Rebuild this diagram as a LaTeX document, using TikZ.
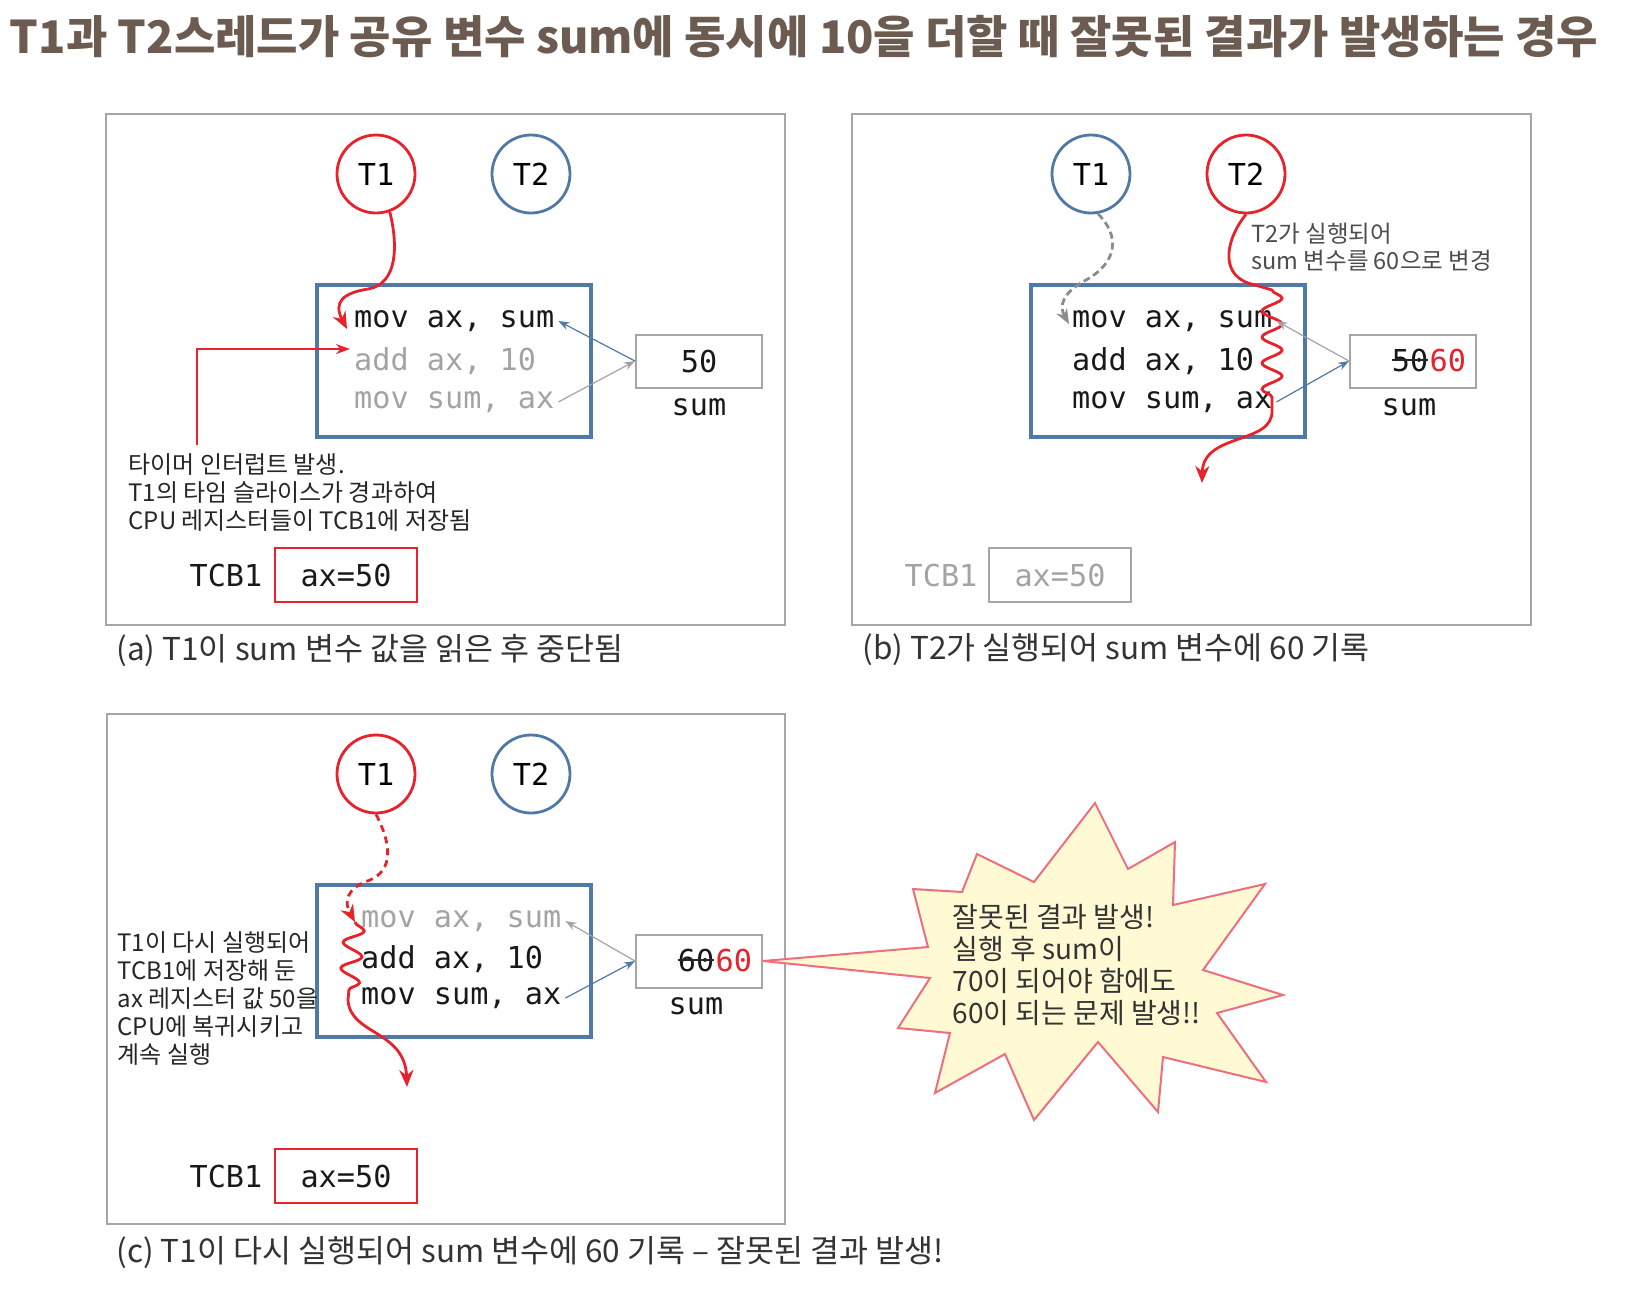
\documentclass[tikz,border=0pt]{standalone}
\usepackage{fontspec}
\setmainfont{Noto Sans CJK KR}
\newfontfamily\codefont{DejaVu Sans Mono}
\usepackage{tikz}
\usetikzlibrary{arrows.meta, positioning, decorations.pathmorphing}

\definecolor{thred}{HTML}{E8212B}
\definecolor{thblue}{HTML}{5079A8}
\definecolor{framegray}{HTML}{A6A6A6}
\definecolor{idlegray}{HTML}{A3A3A3}
\definecolor{titlebrown}{HTML}{6B5B50}
\definecolor{burstfill}{HTML}{FFFAD4}
\definecolor{burstline}{HTML}{EE6E7E}

\newcommand{\codesize}{\fontsize{30.2}{34}\selectfont}

\begin{document}
\begin{tikzpicture}[
    x=1pt, y=-1pt,
    panel/.style={draw=framegray, line width=2pt},
    thread/.style={circle, line width=2.8pt, minimum size=78pt, inner sep=0pt, font=\codefont\codesize},
    running/.style={thread, draw=thred},
    waiting/.style={thread, draw=thblue},
    codebox/.style={draw=thblue, line width=3.5pt, minimum width=274pt, minimum height=152pt},
    codeline/.style={anchor=west, inner sep=4pt, font=\codefont\codesize, text=black!90},
    idle/.style={text=idlegray},
    mono/.style={font=\codefont\codesize, text=black!90},
    digits/.style={mono, inner sep=0pt},
    memcell/.style={draw=framegray, line width=2pt, minimum width=126pt, minimum height=53pt},
    tcbcell/.style={draw=thred, line width=2pt, minimum width=142pt, minimum height=54pt, font=\codefont\codesize, text=black!90},
    note/.style={anchor=west, align=left, font=\fontsize{24}{28}\selectfont, text=black!85},
    caption/.style={anchor=west, font=\fontsize{31.5}{36}\selectfont, text=black!80},
    flow/.style={thred, line width=2.8pt, -{Stealth[length=17pt,width=14pt]}},
    waitflow/.style={draw=black!45, line width=2.8pt, dash pattern=on 7pt off 4pt, -{Stealth[length=15pt,width=12pt]}},
    irq/.style={thred, line width=1.6pt, -{Stealth[length=14pt,width=10pt]}},
    readarr/.style={line width=1.2pt, -{Stealth[length=11pt,width=8pt]}},
    strike/.style={line width=2pt, black!85},
    wave/.style={decoration={snake, segment length=26pt, amplitude=10pt}}
]
\useasboundingbox (0,0) rectangle (1626,1310);

% Title
\node[font=\bfseries\fontsize{45}{50}\selectfont, text=titlebrown] (title) at (804,37) {T1과 T2스레드가 공유 변수 sum에 동시에 10을 더할 때 잘못된 결과가 발생하는 경우};

% (a) T1 reads sum, then the timer interrupt stops it
\draw[panel] (106,114) rectangle (785,625);
\node[running] (aT1) at (376,174) {T1};
\node[waiting] (aT2) at (531,174) {T2};
\node[codebox] (aCode) at (454,361) {};
\node[codeline] (aL1) at (350,321) {mov ax, sum};
\node[codeline, idle] (aL2) at (350,361) {add ax, 10};
\node[codeline, idle] (aL3) at (350,402) {mov sum, ax};
\node[memcell] (aSum) at (699,361) {};
\node[mono] (aVal) at (aSum.center) {50};
\node[mono] (aSumName) at (699,407) {sum};
\node[tcbcell] (aTCB) at (346,575) {ax=50};
\node[mono] (aTCBName) at (226,575) {TCB1};
\node[note] (aNote) at (125,493) {타이머 인터럽트 발생.\\T1의 타임 슬라이스가 경과하여\\CPU 레지스터들이 TCB1에 저장됨};
\node[caption] (aCap) at (113,650) {(a) T1이 sum 변수 값을 읽은 후 중단됨};

\coordinate (aEntry) at (347,329);
\draw[flow] (aT1.-70) .. controls (398,245) and (398,284) .. (368,289) .. controls (343,293) and (333,302) .. (aEntry);
\coordinate (aIrq) at (197,445);
\coordinate (aIrqTip) at (350,349);
\draw[irq] (aIrq) |- (aIrqTip);
\draw[readarr, thblue] (aSum.west) -- (aL1.east);
\draw[readarr, idlegray] (aL3.east) -- (aSum.west);

% (b) T2 runs the whole sequence and writes 60
\draw[panel] (852,114) rectangle (1531,625);
\node[waiting] (bT1) at (1091,174) {T1};
\node[running] (bT2) at (1246,174) {T2};
\node[codebox] (bCode) at (1168,361) {};
\node[codeline] (bL1) at (1068,321) {mov ax, sum};
\node[codeline] (bL2) at (1068,361) {add ax, 10};
\node[codeline] (bL3) at (1068,402) {mov sum, ax};
\node[memcell] (bSum) at (1413,361) {};
\node[digits] (bOld) at (1410,360) {50};
\node[digits, text=thred, right=1pt of bOld] (bNew) {60};
\draw[strike] (bOld.west) -- (bOld.east);
\node[mono] (bSumName) at (1409,407) {sum};
\node[tcbcell, draw=framegray, text=idlegray] (bTCB) at (1060,575) {ax=50};
\node[mono, text=idlegray] (bTCBName) at (941,575) {TCB1};
\node[note, font=\fontsize{23.5}{27.5}\selectfont, text=black!70] (bNote) at (1248,247) {T2가 실행되어\\sum 변수를 60으로 변경};
\node[caption] (bCap) at (859,650) {(b) T2가 실행되어 sum 변수에 60 기록};

\coordinate (bSnakeTop) at (1272,290);
\coordinate (bSnakeEnd) at (1272,410);
\coordinate (bExit) at (1202,483);
\draw[flow] (bT2.south) .. controls (1228,236) and (1218,272) .. (1248,283) .. controls (1262,287) .. (bSnakeTop) decorate[wave] {-- (bSnakeEnd)} .. controls (1274,445) and (1203,432) .. (bExit);
\coordinate (bWait) at (1069,324);
\draw[waitflow] (bT1.-80) .. controls (1120,236) and (1118,262) .. (1086,280) .. controls (1062,293) and (1059,306) .. (bWait);
\draw[readarr, idlegray] (bSum.west) -- (bL1.east);
\draw[readarr, thblue] (bL3.east) -- (bSum.west);

% (c) T1 resumes with the stale ax and writes 60 again
\draw[panel] (107,714) rectangle (785,1224);
\node[running] (cT1) at (376,774) {T1};
\node[waiting] (cT2) at (531,774) {T2};
\node[codebox] (cCode) at (454,961) {};
\node[codeline, idle] (cL1) at (357,921) {mov ax, sum};
\node[codeline] (cL2) at (357,959) {add ax, 10};
\node[codeline] (cL3) at (357,998) {mov sum, ax};
\node[memcell] (cSum) at (699,961) {};
\node[digits] (cOld) at (696,960) {60};
\node[digits, text=thred, right=1pt of cOld] (cNew) {60};
\draw[strike] (cOld.west) -- (cOld.east);
\node[mono] (cSumName) at (696,1006) {sum};
\node[tcbcell] (cTCB) at (346,1176) {ax=50};
\node[mono] (cTCBName) at (226,1176) {TCB1};
\node[note] (cNote) at (114,998) {T1이 다시 실행되어\\TCB1에 저장해 둔\\ax 레지스터 값 50을\\CPU에 복귀시키고\\계속 실행};
\node[caption] (cCap) at (113,1253) {(c) T1이 다시 실행되어 sum 변수에 60 기록 – 잘못된 결과 발생!};

\coordinate (cResume) at (355,922);
\coordinate (cSnakeEnd) at (348,1000);
\coordinate (cExit) at (407,1087);
\draw[flow, dash pattern=on 7pt off 5pt] (cT1.south) .. controls (392,845) and (393,870) .. (370,880) .. controls (346,888) and (344,902) .. (cResume);
\draw[flow] (cResume) decorate[wave] {-- (cSnakeEnd)} .. controls (350,1035) and (405,1030) .. (cExit);
\draw[readarr, idlegray] (cSum.west) -- (cL1.east);
\draw[readarr, thblue] (cL3.east) -- (cSum.west);

% Burst callout
\draw[draw=burstline, fill=burstfill, line width=2pt, line join=miter]
    (1095,803) -- (1128,869) -- (1175,842) -- (1173,905) -- (1265,884) -- (1203,970)
    -- (1283,995) -- (1217,1013) -- (1266,1082) -- (1163,1057) -- (1158,1112) -- (1098,1042)
    -- (1034,1120) -- (1005,1054) -- (935,1093) -- (950,1033) -- (898,1028) -- (930,978)
    -- (cSum.east) -- (928,947) -- (913,889) -- (962,892) -- (977,854) -- (1034,882) -- cycle;
\node[anchor=west, align=left, font=\fontsize{28}{32.3}\selectfont, text=black!80] (warn) at (949,965) {잘못된 결과 발생!\\실행 후 sum이\\70이 되어야 함에도\\60이 되는 문제 발생!!};

\end{tikzpicture}
\end{document}
